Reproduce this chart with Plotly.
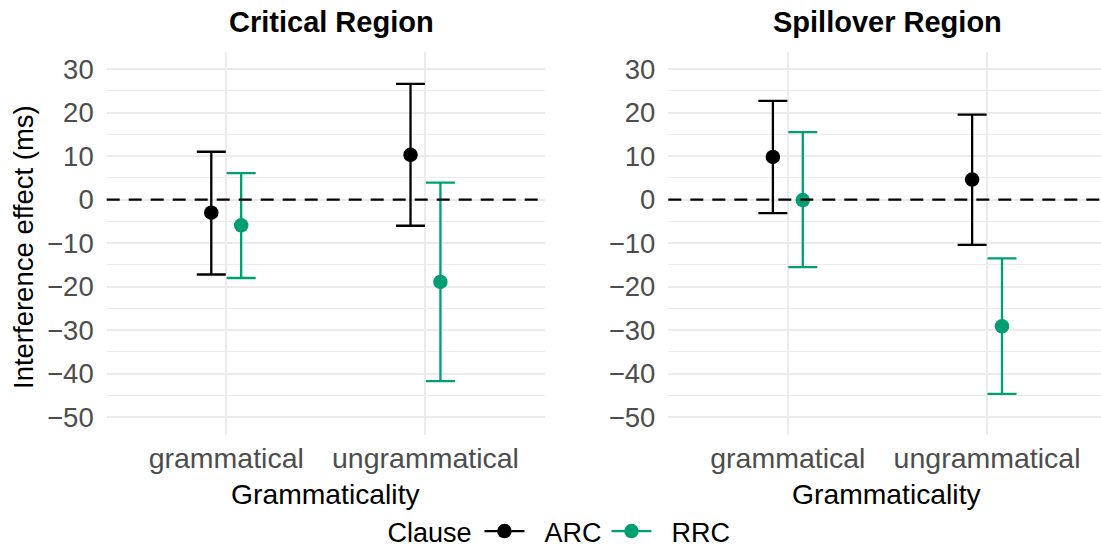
import plotly.graph_objects as go

# ---- data ----
regions = ["Critical Region", "Spillover Region"]
categories = ["grammatical", "ungrammatical"]
clauses = ["ARC", "RRC"]

crit_arc_est = [-3.0, 10.3]
crit_arc_lo = [-17.2, -6.0]
crit_arc_hi = [11.0, 26.6]
crit_rrc_est = [-5.9, -18.9]
crit_rrc_lo = [-18.0, -41.7]
crit_rrc_hi = [6.1, 3.9]

spill_arc_est = [9.8, 4.6]
spill_arc_lo = [-3.1, -10.4]
spill_arc_hi = [22.7, 19.5]
spill_rrc_est = [-0.1, -29.1]
spill_rrc_lo = [-15.5, -44.6]
spill_rrc_hi = [15.5, -13.5]

y_ticks = [-50, -40, -30, -20, -10, 0, 10, 20, 30]
y_tick_labels = ["\u221250", "\u221240", "\u221230", "\u221220", "\u221210", "0", "10", "20", "30"]

colors = {"ARC": "#000000", "RRC": "#009E73"}
dodge = {"ARC": -0.075, "RRC": 0.075}

panel_data = [
    {"ARC": (crit_arc_est, crit_arc_lo, crit_arc_hi), "RRC": (crit_rrc_est, crit_rrc_lo, crit_rrc_hi)},
    {"ARC": (spill_arc_est, spill_arc_lo, spill_arc_hi), "RRC": (spill_rrc_est, spill_rrc_lo, spill_rrc_hi)},
]

FONT = "Liberation Sans, Arial, Helvetica, sans-serif"
W, H = 1101, 556

fig = go.Figure()
cat_pos = [i + 1 for i in range(len(categories))]

for p, pdata in enumerate(panel_data):
    xa = "x" if p == 0 else "x2"
    ya = "y" if p == 0 else "y2"
    for cl in clauses:
        est, lo, hi = pdata[cl]
        fig.add_trace(go.Scatter(
            x=[c + dodge[cl] for c in cat_pos], y=est,
            mode="markers", xaxis=xa, yaxis=ya, showlegend=False,
            marker=dict(color=colors[cl], size=14.5),
            error_y=dict(type="data", symmetric=False,
                         array=[h - e for h, e in zip(hi, est)],
                         arrayminus=[e - l for e, l in zip(est, lo)],
                         color=colors[cl], thickness=2.3, width=14.5),
            name=cl,
        ))

# legend entries
for cl in clauses:
    fig.add_trace(go.Scatter(x=[None], y=[None], mode="lines+markers", name="\u00a0\u00a0" + cl,
                             line=dict(color=colors[cl], width=2.3),
                             marker=dict(color=colors[cl], size=14.5), showlegend=True))

# geometry (pixels)
top, bottom = 51.6, 434.7
L1, R1 = 106.7, 545.0
L2 = 668.3
spacing = (R1 - L1) / 2.2
r2_max = 0.4 + (W - L2) / spacing

ydom = [(H - bottom) / H, (H - top) / H]
axis_common = dict(showline=False, zeroline=False, showgrid=True, gridcolor="#EBEBEB", gridwidth=2.2,
                   automargin=False)
yaxis_common = dict(axis_common, range=[-54, 34], tickvals=y_ticks, ticktext=y_tick_labels,
                    tickfont=dict(family=FONT, size=27.5, color="#4D4D4D"), ticks="",
                    ticklabelstandoff=12,
                    minor=dict(dtick=5, tick0=0, showgrid=True, gridcolor="#EBEBEB", gridwidth=1.2))
xaxis_common = dict(axis_common, tickvals=cat_pos, ticktext=categories,
                    tickfont=dict(family=FONT, size=28.5, color="#4D4D4D"), ticks="",
                    ticklabelstandoff=4)

fig.update_layout(
    width=W, height=H, autosize=False,
    margin=dict(l=0, r=0, t=0, b=0, pad=0),
    paper_bgcolor="white", plot_bgcolor="white",
    font=dict(family=FONT, size=27, color="black"),
    xaxis=dict(xaxis_common, domain=[L1 / W, R1 / W], range=[0.4, 2.6]),
    xaxis2=dict(xaxis_common, domain=[L2 / W, 1.0], range=[0.4, r2_max]),
    yaxis=dict(yaxis_common, domain=ydom, anchor="x"),
    yaxis2=dict(yaxis_common, domain=ydom, anchor="x2"),
    showlegend=True,
    legend=dict(orientation="h", x=0.509, xanchor="center",
                y=0, yanchor="bottom",
                title=dict(text="Clause", side="left", font=dict(family=FONT, size=27)),
                font=dict(family=FONT, size=27, color="black"), itemwidth=40,
                bgcolor="rgba(0,0,0,0)"),
)

# dashed zero lines
for xr, yr in (("x domain", "y"), ("x2 domain", "y2")):
    fig.add_shape(type="line", xref=xr, yref=yr, x0=0, x1=1, y0=0, y1=0,
                  line=dict(color="black", width=2.3, dash="13px,9px"))

# strip titles and axis titles
panel_centers = [(L1 + R1) / 2, L2 + (R1 - L1) / 2]
title_centers = [331.0, 887.7]
for c, tc, reg in zip(panel_centers, title_centers, regions):
    fig.add_annotation(x=tc / W, y=(H - 22) / H, xref="paper", yref="paper", text="<b>" + reg + "</b>",
                       showarrow=False, xanchor="center", yanchor="middle",
                       font=dict(family=FONT, size=29, color="black"))
    fig.add_annotation(x=c / W, y=(H - 494) / H, xref="paper", yref="paper", text="Grammaticality",
                       showarrow=False, xanchor="center", yanchor="middle",
                       font=dict(family=FONT, size=28.3, color="black"))

fig.add_annotation(x=23 / W, y=(H - 247) / H, xref="paper", yref="paper", text="Interference effect (ms)",
                   showarrow=False, xanchor="center", yanchor="middle", textangle=-90,
                   font=dict(family=FONT, size=27.5, color="black"))

fig.write_html("out.html")
